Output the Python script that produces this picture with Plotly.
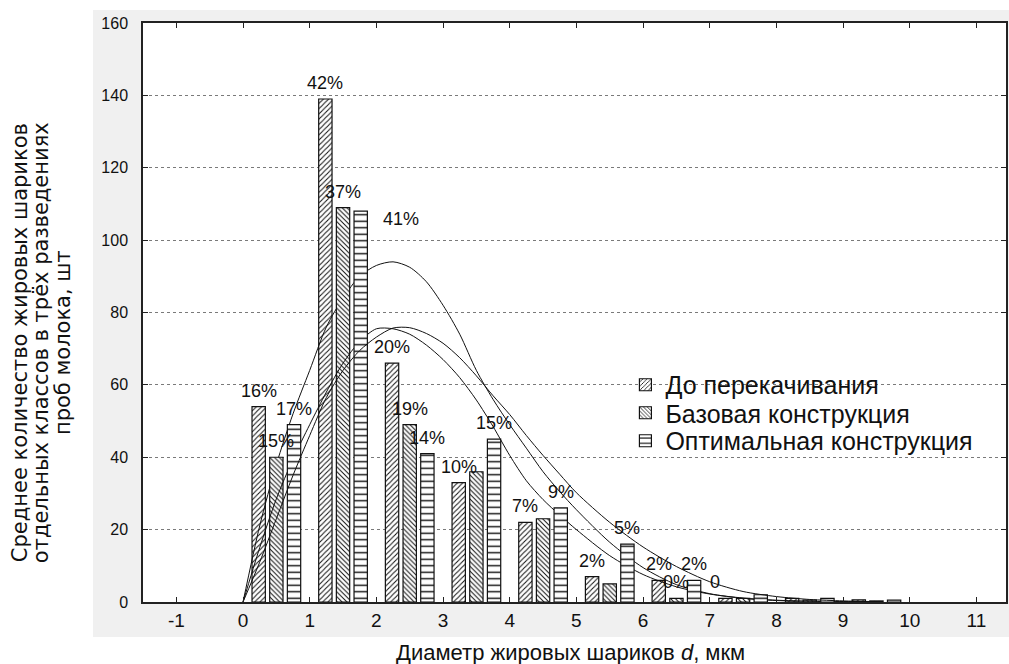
import plotly.graph_objects as go

# ---------------- data ----------------
class_centers = [0.5, 1.5, 2.5, 3.5, 4.5, 5.5, 6.5, 7.5, 8.5, 9.5]
series_names = ["До перекачивания", "Базовая конструкция", "Оптимальная конструкция"]

before_pumping = [54, 139, 66, 33, 22, 7, 6, 1, 1, 0.6]
base_design = [40, 109, 49, 36, 23, 5, 1, 1, 0.5, 0.3]
optimal_design = [49, 108, 41, 45, 26, 16, 6, 2, 1, 0.5]

labels_before = ["16%", "42%", "20%", "10%", "7%", "2%", "2%", "0", "", ""]
labels_base = ["15%", "37%", "19%", "", "", "", "0%", "", "", ""]
labels_optimal = ["17%", "41%", "14%", "15%", "9%", "5%", "2%", "", "", ""]

curve_x = [0, 0.25, 0.5, 0.75, 1, 1.25, 1.5, 1.75, 2, 2.25, 2.5, 2.75, 3, 3.25, 3.5,
           3.75, 4, 4.25, 4.5, 4.75, 5, 5.5, 6, 6.5, 7, 7.5, 8, 8.5, 9, 9.5]
curve_before = [0, 21, 38, 52, 64, 76, 84, 90, 93, 94, 92.5, 88.5, 82, 74, 64,
                56, 49, 42.5, 36, 30.5, 25.5, 16.5, 9.5, 4.8, 2.3, 1.0, 0.4, 0.2, 0.1, 0]
curve_base = [0, 15, 28.5, 39.5, 49, 58, 66, 72, 75.5, 75.5, 74, 71, 67, 62, 55.8,
              48.5, 40.5, 33.5, 28.3, 24, 20, 12.8, 7.6, 4.2, 2.2, 1.1, 0.5, 0.2, 0.1, 0]
curve_optimal = [0, 11, 23, 35, 46, 56.5, 64, 69.5, 73.2, 75.7, 75.8, 74.2, 71.5, 67.5, 62.5,
                 57, 51.8, 46, 40.5, 35.3, 30.2, 22, 15.2, 9.8, 5.6, 2.9, 1.5, 0.7, 0.3, 0.1]

x_tick_vals = [-1, 0, 1, 2, 3, 4, 5, 6, 7, 8, 9, 10, 11]
x_tick_text = ["-1", "0", "1", "2", "3", "4", "5", "6", "7", "8", "9", "10", "11"]
y_tick_vals = [0, 20, 40, 60, 80, 100, 120, 140, 160]

# ---------------- style ----------------
X_RANGE = [-1.5, 11.443]
Y_RANGE = [0, 160]
BAR_W = 0.2
offsets = [-0.365, -0.1, 0.165]
patterns = [dict(shape="/", size=3.7, solidity=0.28),
            dict(shape="\\", size=3.4, solidity=0.3),
            dict(shape="-", size=6.5, solidity=0.22)]
INK = "#111111"
FONT = "Liberation Sans, Arial, sans-serif"
legend_ids = ["legend", "legend2", "legend3"]
legend_y = [0.3748, 0.3264, 0.2781]

values = [before_pumping, base_design, optimal_design]
labels = [labels_before, labels_base, labels_optimal]
curves = [curve_before, curve_base, curve_optimal]
label_nudge = {(0, 7): (-10, 0), (2, 1): (40, -24)}

fig = go.Figure()
axis_ids = [("x", "y"), ("x2", "y2"), ("x3", "y3")]
for s in range(3):
    xa, ya = axis_ids[s]
    pat = dict(patterns[s])
    pat.update(fgcolor=INK, bgcolor="white", fillmode="replace")
    fig.add_trace(go.Bar(
        x=class_centers, y=values[s], name=series_names[s],
        width=BAR_W, offset=offsets[s],
        marker=dict(color="white", pattern=pat, line=dict(color=INK, width=1.2)),
        xaxis=xa, yaxis=ya, showlegend=True, legend=legend_ids[s]))
    fig.add_trace(go.Scatter(
        x=curve_x, y=curves[s], mode="lines",
        line=dict(color=INK, width=1.0, shape="spline", smoothing=0.8),
        xaxis=xa, yaxis=ya, showlegend=False, hoverinfo="skip"))

annotations = []
for s in range(3):
    for i, txt in enumerate(labels[s]):
        if not txt:
            continue
        dx, dy = label_nudge.get((s, i), (0, 0))
        annotations.append(dict(
            x=class_centers[i] + offsets[s] + BAR_W / 2, y=values[s][i],
            xref="x", yref="y", text=txt, showarrow=False,
            xanchor="center", yanchor="middle", xshift=dx, yshift=16 + dy,
            font=dict(family=FONT, size=18, color=INK)))

# axis titles
ytitle_lines = ["Среднее количество жировых шариков",
                "отдельных классов в трёх разведениях",
                "проб молока, шт"]
ytitle_x = [-0.1422, -0.1179, -0.0925]
for line, xp in zip(ytitle_lines, ytitle_x):
    annotations.append(dict(x=xp, y=0.4475, xref="paper", yref="paper", text=line,
                            textangle=-90, showarrow=False, xanchor="center", yanchor="middle",
                            font=dict(family="DejaVu Sans, sans-serif", size=21, color=INK)))
annotations.append(dict(x=0.495, y=-0.0864, xref="paper", yref="paper",
                        text="Диаметр жировых шариков <i>d</i>, мкм", showarrow=False,
                        xanchor="center", yanchor="middle",
                        font=dict(family=FONT, size=22, color=INK)))

shapes = [
    dict(type="rect", xref="paper", yref="paper", x0=-0.058, x1=1.01, y0=-0.0604, y1=1.0225,
         fillcolor="#f0f0f0", line=dict(width=0), layer="below"),
    dict(type="rect", xref="paper", yref="paper", x0=0, x1=1, y0=0, y1=1,
         fillcolor="white", line=dict(width=0), layer="below"),
]

legend_style = dict(x=0.559, xanchor="left", yanchor="middle",
                    bgcolor="rgba(0,0,0,0)", font=dict(family=FONT, size=25, color=INK),
                    itemclick=False, itemdoubleclick=False)

fig.update_layout(
    width=1009, height=664,
    margin=dict(l=143, r=1, t=23, b=62),
    paper_bgcolor="white", plot_bgcolor="white",
    barmode="overlay",
    showlegend=True,
    legend=dict(legend_style, y=legend_y[0]),
    legend2=dict(legend_style, y=legend_y[1]),
    legend3=dict(legend_style, y=legend_y[2]),
    xaxis=dict(range=X_RANGE, tickmode="array", tickvals=x_tick_vals, ticktext=x_tick_text,
               ticks="inside", ticklen=5, tickcolor="#222", showline=True, linecolor="#222",
               linewidth=1.5, mirror="ticks", showgrid=False, zeroline=False,
               tickfont=dict(family=FONT, size=19, color=INK)),
    yaxis=dict(range=Y_RANGE, tickmode="array", tickvals=y_tick_vals,
               ticks="inside", ticklen=5, tickcolor="#222", showline=True, linecolor="#222",
               linewidth=1.5, mirror="ticks", showgrid=True, gridcolor="#7a7a7a",
               griddash="dot", gridwidth=1, zeroline=False, ticklabelstandoff=10,
               tickfont=dict(family=FONT, size=16, color=INK)),
    xaxis2=dict(overlaying="x", range=X_RANGE, visible=False),
    yaxis2=dict(overlaying="y", range=Y_RANGE, visible=False),
    xaxis3=dict(overlaying="x", range=X_RANGE, visible=False),
    yaxis3=dict(overlaying="y", range=Y_RANGE, visible=False),
    annotations=annotations,
    shapes=shapes,
)

fig.write_html("out.html")
